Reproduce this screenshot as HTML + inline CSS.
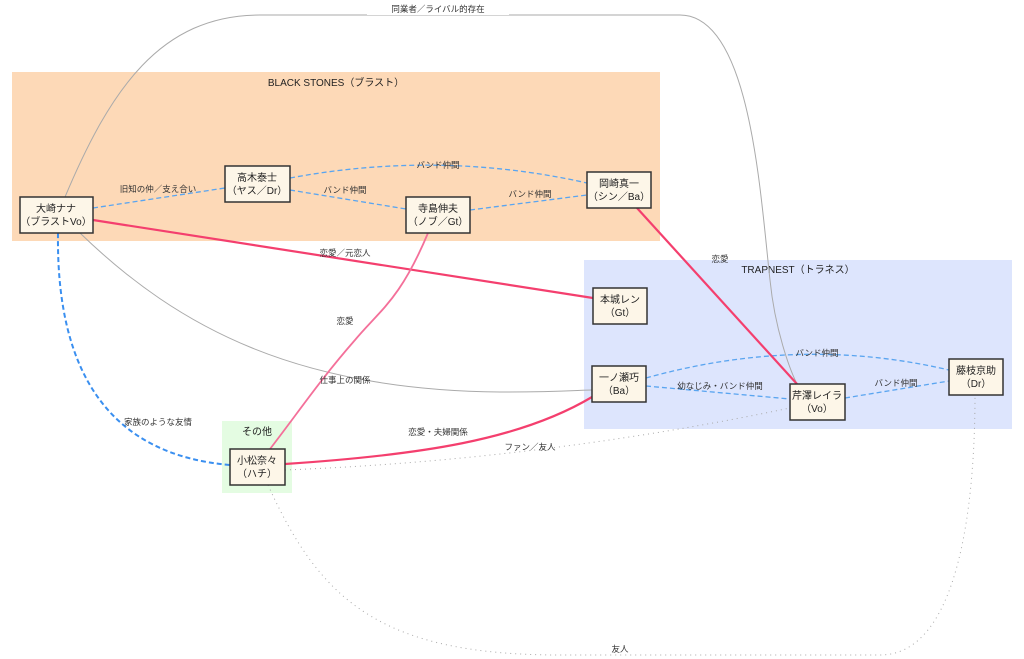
<!DOCTYPE html>
<html><head><meta charset="utf-8"><style>
html,body{margin:0;padding:0;background:#fff;}
svg{display:block;font-family:"Liberation Sans","Noto Sans CJK JP",sans-serif;}
.n{fill:#fdf6e8;stroke:#333;stroke-width:1.5;}
.t{font-size:10px;fill:#222;text-anchor:middle;}
.l{font-size:8.5px;fill:#333;text-anchor:middle;}
</style></head><body>
<svg width="1024" height="659" viewBox="0 0 1024 659">
<rect x="12" y="72" width="648" height="169" fill="#fdd9b7"/>
<rect x="584" y="260" width="428" height="169" fill="#dde5fd"/>
<rect x="222" y="421" width="70" height="72" fill="#e4fce2"/>
<text class="t" x="336" y="86">BLACK STONES（ブラスト）</text>
<text class="t" x="798" y="273">TRAPNEST（トラネス）</text>
<text class="t" x="257" y="435">その他</text>

<g fill="none">
<path d="M65,197 C110,90 160,15 260,15 L680,15 C750,15 760,190 770,280 C775,330 790,370 797,384" stroke="#aaa" stroke-width="1"/>
<path d="M80,233 C180,330 300,390 500,392 C560,392 580,390 592,390" stroke="#aaa" stroke-width="1"/>
<path d="M93,208 L225,188" stroke="#5aa5f0" stroke-width="1.3" stroke-dasharray="5,3"/>
<path d="M290,190 L406,209" stroke="#5aa5f0" stroke-width="1.3" stroke-dasharray="5,3"/>
<path d="M290,178 Q440,150 587,183" stroke="#5aa5f0" stroke-width="1.3" stroke-dasharray="5,3"/>
<path d="M470,210 L587,195" stroke="#5aa5f0" stroke-width="1.3" stroke-dasharray="5,3"/>
<path d="M646,378 Q800,335 949,370" stroke="#5aa5f0" stroke-width="1.3" stroke-dasharray="5,3"/>
<path d="M646,386 L790,399" stroke="#5aa5f0" stroke-width="1.3" stroke-dasharray="5,3"/>
<path d="M845,398 L949,381" stroke="#5aa5f0" stroke-width="1.3" stroke-dasharray="5,3"/>
<path d="M58,233 Q55,450 230,465" stroke="#3a8ff0" stroke-width="2" stroke-dasharray="5,3"/>
<path d="M93,220 L593,298" stroke="#f43f6e" stroke-width="2.2"/>
<path d="M637,208 L797,384" stroke="#f43f6e" stroke-width="2.2"/>
<path d="M428,233 C400,300 380,310 355,340 C320,380 300,410 270,449" stroke="#f4709a" stroke-width="1.8"/>
<path d="M285,464 C420,455 520,440 592,397" stroke="#f43f6e" stroke-width="2.2"/>
<path d="M285,470 Q540,460 790,408" stroke="#aaa" stroke-width="1" stroke-dasharray="1,4"/>
<path d="M268,485 C320,600 380,655 560,655 L880,655 C960,655 975,500 975,395" stroke="#aaa" stroke-width="1" stroke-dasharray="1,4"/>
</g>

<g>
<rect x="367" y="2" width="142" height="13" fill="#fff"/>
<text class="l" x="438" y="12">同業者／ライバル的存在</text>
<text class="l" x="158" y="192">旧知の仲／支え合い</text>
<text class="l" x="345" y="193">バンド仲間</text>
<text class="l" x="438" y="168">バンド仲間</text>
<text class="l" x="530" y="197">バンド仲間</text>
<text class="l" x="345" y="256">恋愛／元恋人</text>
<text class="l" x="720" y="262">恋愛</text>
<text class="l" x="345" y="324">恋愛</text>
<text class="l" x="345" y="383">仕事上の関係</text>
<text class="l" x="158" y="425">家族のような友情</text>
<text class="l" x="438" y="435">恋愛・夫婦関係</text>
<text class="l" x="530" y="450">ファン／友人</text>
<text class="l" x="817" y="356">バンド仲間</text>
<text class="l" x="720" y="389">幼なじみ・バンド仲間</text>
<text class="l" x="896" y="386">バンド仲間</text>
<text class="l" x="620" y="652">友人</text>
</g>

<g>
<rect class="n" x="20" y="197" width="73" height="36"/>
<text class="t" x="56" y="212">大崎ナナ</text><text class="t" x="56" y="225">（ブラストVo）</text>
<rect class="n" x="225" y="166" width="65" height="36"/>
<text class="t" x="257" y="181">高木泰士</text><text class="t" x="257" y="194">（ヤス／Dr）</text>
<rect class="n" x="406" y="197" width="64" height="36"/>
<text class="t" x="438" y="212">寺島伸夫</text><text class="t" x="438" y="225">（ノブ／Gt）</text>
<rect class="n" x="587" y="172" width="64" height="36"/>
<text class="t" x="619" y="187">岡崎真一</text><text class="t" x="619" y="200">（シン／Ba）</text>
<rect class="n" x="593" y="288" width="54" height="36"/>
<text class="t" x="620" y="303">本城レン</text><text class="t" x="620" y="316">（Gt）</text>
<rect class="n" x="592" y="366" width="54" height="36"/>
<text class="t" x="619" y="381">一ノ瀬巧</text><text class="t" x="619" y="394">（Ba）</text>
<rect class="n" x="790" y="384" width="55" height="36"/>
<text class="t" x="817" y="399">芹澤レイラ</text><text class="t" x="817" y="412">（Vo）</text>
<rect class="n" x="949" y="359" width="54" height="36"/>
<text class="t" x="976" y="374">藤枝京助</text><text class="t" x="976" y="387">（Dr）</text>
<rect class="n" x="230" y="449" width="55" height="36"/>
<text class="t" x="257" y="464">小松奈々</text><text class="t" x="257" y="477">（ハチ）</text>
</g>
</svg>
</body></html>
